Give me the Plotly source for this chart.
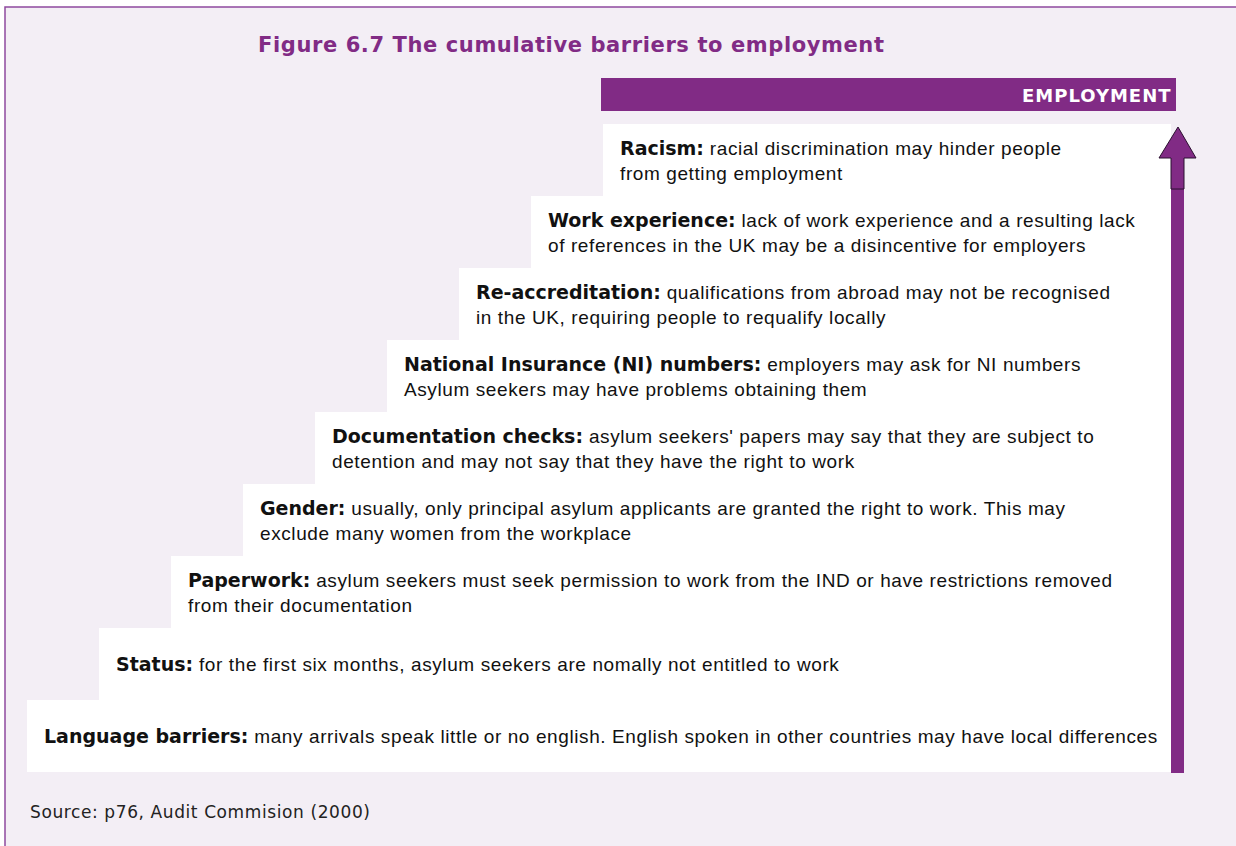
import plotly.graph_objects as go

# barriers, from the bottom step to the top step
labels = [
    "Language barriers:",
    "Status:",
    "Paperwork:",
    "Gender:",
    "Documentation checks:",
    "National Insurance (NI) numbers:",
    "Re-accreditation:",
    "Work experience:",
    "Racism:",
]
descriptions = [
    ["many arrivals speak little or no english. English spoken in other countries may have local differences"],
    ["for the first six months, asylum seekers are nomally not entitled to work"],
    ["asylum seekers must seek permission to work from the IND or have restrictions removed",
     "from their documentation"],
    ["usually, only principal asylum applicants are granted the right to work. This may",
     "exclude many women from the workplace"],
    ["asylum seekers' papers may say that they are subject to",
     "detention and may not say that they have the right to work"],
    ["employers may ask for NI numbers",
     "Asylum seekers may have problems obtaining them"],
    ["qualifications from abroad may not be recognised",
     "in the UK, requiring people to requalify locally"],
    ["lack of work experience and a resulting lack",
     "of references in the UK may be a disincentive for employers"],
    ["racial discrimination may hinder people",
     "from getting employment"],
]
title = "Figure 6.7 The cumulative barriers to employment"
goal = "EMPLOYMENT"
source = "Source: p76, Audit Commision (2000)"

PURPLE = "#812b85"
BG = "#f3eef5"
W, H = 1236, 846
STEP_X0, STEP_W, STEP_H, BOTTOM, RIGHT = 27, 72, 72, 772, 1171

LABEL_STYLE = "font-family:'DejaVu Sans';font-size:19px"
TEXT_STYLE = "font-family:'Liberation Sans';font-size:19px;letter-spacing:0.6px"

fig = go.Figure()

shapes = [
    # panel frame
    dict(type="rect", x0=5, y0=7, x1=W + 10, y1=H + 10,
         fillcolor=BG, line=dict(color="#8e4a9e", width=1.5), layer="below"),
]
annotations = []

for i, (lab, lines) in enumerate(zip(labels, descriptions)):
    x0 = STEP_X0 + STEP_W * i
    y1 = BOTTOM - STEP_H * i
    y0 = y1 - STEP_H
    shapes.append(dict(type="rect", x0=x0, x1=RIGHT, y0=y0, y1=y1,
                       fillcolor="white", line=dict(width=0), layer="below"))
    html = [f"<span style=\"{LABEL_STYLE}\"><b>{lab}</b></span>"
            f"<span style=\"{TEXT_STYLE}\"> {lines[0]}</span>"]
    for ln in lines[1:]:
        html.append(f"<span style=\"{TEXT_STYLE}\">{ln}</span>")
    annotations.append(dict(
        x=x0 + 15, y=(y0 + y1) / 2, xref="x", yref="y",
        text="<br>".join(html), showarrow=False,
        xanchor="left", yanchor="middle", align="left",
        font=dict(size=19, color="#111111", family="Liberation Sans"),
    ))

# employment bar
shapes.append(dict(type="rect", x0=601, x1=1176, y0=78, y1=111,
                   fillcolor=PURPLE, line=dict(width=0)))
annotations.append(dict(x=1173, y=95, xref="x", yref="y",
                        text=f"<span style=\"letter-spacing:1px\"><b>{goal}</b></span>",
                        showarrow=False, xanchor="right", yanchor="middle",
                        font=dict(size=18, color="white", family="DejaVu Sans")))

# upward arrow
shapes.append(dict(type="rect", x0=1171, x1=1184, y0=185, y1=773,
                   fillcolor=PURPLE, line=dict(width=0)))
shapes.append(dict(type="path",
                   path="M 1171 189 L 1171 158 L 1159 158 L 1178 127 L 1196 158 "
                        "L 1184 158 L 1184 189 Z",
                   fillcolor=PURPLE, line=dict(color="#2b1030", width=1)))

annotations.append(dict(x=571, y=45, xref="x", yref="y",
                        text=f"<span style=\"letter-spacing:0.6px\"><b>{title}</b></span>",
                        showarrow=False, xanchor="center", yanchor="middle",
                        font=dict(size=21, color=PURPLE, family="DejaVu Sans")))
annotations.append(dict(x=28, y=812, xref="x", yref="y",
                        text=f"<span style=\"letter-spacing:0.6px\">{source}</span>",
                        showarrow=False, xanchor="left", yanchor="middle",
                        font=dict(size=17, color="#222222", family="DejaVu Sans")))

fig.update_layout(
    width=W, height=H,
    margin=dict(l=0, r=0, t=0, b=0),
    paper_bgcolor="white", plot_bgcolor="rgba(0,0,0,0)",
    xaxis=dict(range=[0, W], visible=False, fixedrange=True),
    yaxis=dict(range=[H, 0], visible=False, fixedrange=True),
    shapes=shapes, annotations=annotations,
    showlegend=False,
)

fig.write_html("out.html", config={"displayModeBar": False},
               post_script="document.body.style.margin='0';")
